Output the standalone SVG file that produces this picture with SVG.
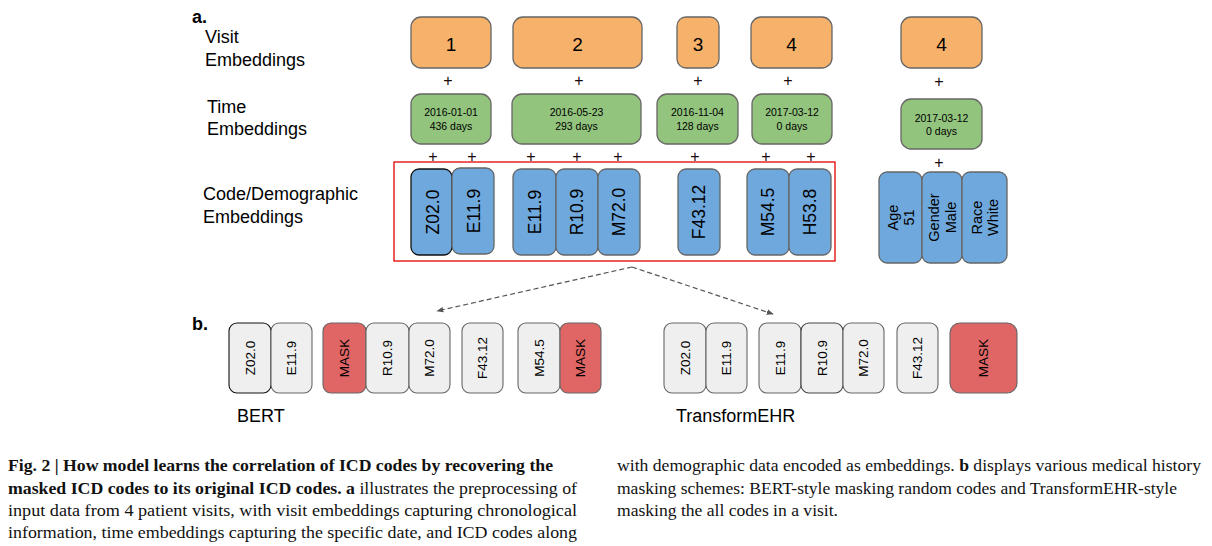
<svg xmlns="http://www.w3.org/2000/svg" width="1212" height="546" viewBox="0 0 1212 546">
<defs>
<style>
.lbl{font-family:"Liberation Sans",Arial,sans-serif;font-size:18px;fill:#000}
.hd{font-family:"Liberation Sans",Arial,sans-serif;font-size:18px;font-weight:bold;fill:#000}
.visit{fill:#f6b26b;stroke:#666;stroke-width:1.3}
.time{fill:#93c47d;stroke:#666;stroke-width:1.3}
.code{fill:#6fa8dc;stroke:#666;stroke-width:1.3}
.gray{fill:#efefef;stroke:#666;stroke-width:1.1}
.mask{fill:#e06666;stroke:#666;stroke-width:1.1}
.num{font-family:"Liberation Sans",Arial,sans-serif;font-size:19px;text-anchor:middle;fill:#000}
.tt{font-family:"Liberation Sans",Arial,sans-serif;font-size:10.5px;text-anchor:middle;fill:#000}
.ct{font-family:"Liberation Sans",Arial,sans-serif;font-size:17.5px;text-anchor:middle;fill:#000}
.dt{font-family:"Liberation Sans",Arial,sans-serif;font-size:14.5px;text-anchor:middle;fill:#000}
.bt{font-family:"Liberation Sans",Arial,sans-serif;font-size:13.5px;text-anchor:middle;fill:#000}
.plus{font-family:"Liberation Sans",Arial,sans-serif;font-size:16px;text-anchor:middle;fill:#1a0a0a}
.cap{font-family:"Liberation Serif","Times New Roman",serif;font-size:16px;fill:#111}
.b{font-weight:bold}
</style>
<marker id="ah" viewBox="0 0 10 10" refX="9" refY="5" markerWidth="7" markerHeight="7" orient="auto" markerUnits="userSpaceOnUse">
<path d="M0,1 L10,5 L0,9 z" fill="#555"/>
</marker>
</defs>

<g id="labels">
<text class="hd" x="192" y="23">a.</text>
<text class="lbl" x="205" y="43">Visit</text>
<text class="lbl" x="205" y="66">Embeddings</text>
<text class="lbl" x="207" y="113">Time</text>
<text class="lbl" x="207" y="135">Embeddings</text>
<text class="lbl" x="203" y="200">Code/Demographic</text>
<text class="lbl" x="203" y="223">Embeddings</text>
<text class="hd" x="192" y="330">b.</text>
<text class="lbl" x="237" y="422">BERT</text>
<text class="lbl" x="676" y="422">TransformEHR</text>
</g>

<g id="visit-embeddings">
<g id="v1"><rect class="visit" x="411" y="17" width="80" height="51" rx="10"/><text class="num" x="451" y="51">1</text></g>
<g id="v2"><rect class="visit" x="513" y="17" width="129" height="51" rx="10"/><text class="num" x="577.5" y="51">2</text></g>
<g id="v3"><rect class="visit" x="677" y="17" width="42" height="51" rx="9"/><text class="num" x="698" y="51">3</text></g>
<g id="v4"><rect class="visit" x="751" y="17" width="81" height="51" rx="10"/><text class="num" x="791.5" y="51">4</text></g>
<g id="v4b"><rect class="visit" x="901" y="17" width="81" height="51" rx="10"/><text class="num" x="941.5" y="51">4</text></g>
</g>

<g id="plus-signs">
<text class="plus" x="448" y="86">+</text>
<text class="plus" x="579" y="86">+</text>
<text class="plus" x="698" y="86">+</text>
<text class="plus" x="788" y="86">+</text>
<text class="plus" x="939" y="87">+</text>
<text class="plus" x="433" y="162">+</text>
<text class="plus" x="472" y="162">+</text>
<text class="plus" x="531" y="162">+</text>
<text class="plus" x="577" y="162">+</text>
<text class="plus" x="618" y="162">+</text>
<text class="plus" x="695" y="162">+</text>
<text class="plus" x="766" y="162">+</text>
<text class="plus" x="811" y="162">+</text>
<text class="plus" x="939" y="168">+</text>
</g>

<g id="time-embeddings">
<g id="t1"><rect class="time" x="411" y="94" width="80" height="50" rx="10"/><text class="tt" x="451" y="116">2016-01-01</text><text class="tt" x="451" y="130">436 days</text></g>
<g id="t2"><rect class="time" x="512" y="94" width="129" height="50" rx="10"/><text class="tt" x="576.5" y="116">2016-05-23</text><text class="tt" x="576.5" y="130">293 days</text></g>
<g id="t3"><rect class="time" x="657" y="94" width="81" height="50" rx="10"/><text class="tt" x="697.5" y="116">2016-11-04</text><text class="tt" x="697.5" y="130">128 days</text></g>
<g id="t4"><rect class="time" x="752" y="94" width="80" height="50" rx="10"/><text class="tt" x="792" y="116">2017-03-12</text><text class="tt" x="792" y="130">0 days</text></g>
<g id="t4b"><rect class="time" x="901" y="99" width="81" height="50" rx="10"/><text class="tt" x="941.5" y="122">2017-03-12</text><text class="tt" x="941.5" y="135">0 days</text></g>
</g>

<g id="code-embeddings">
<rect x="394" y="162" width="441" height="99" fill="none" stroke="#e00000" stroke-width="1.3"/>
<g id="c1"><rect class="code" x="411" y="169" width="41" height="86" rx="8" style="stroke:#111"/><text class="ct" transform="translate(433,212) rotate(-90)" dy="0.36em">Z02.0</text></g>
<g id="c2"><rect class="code" x="452" y="168" width="42" height="86" rx="8"/><text class="ct" transform="translate(474,211) rotate(-90)" dy="0.36em">E11.9</text></g>
<g id="c3"><rect class="code" x="513" y="169" width="43" height="86" rx="8"/><text class="ct" transform="translate(535,212) rotate(-90)" dy="0.36em">E11.9</text></g>
<g id="c4"><rect class="code" x="556" y="169" width="42" height="86" rx="8"/><text class="ct" transform="translate(577,212) rotate(-90)" dy="0.36em">R10.9</text></g>
<g id="c5"><rect class="code" x="598" y="169" width="42" height="86" rx="8"/><text class="ct" transform="translate(619,212) rotate(-90)" dy="0.36em">M72.0</text></g>
<g id="c6"><rect class="code" x="678" y="169" width="42" height="86" rx="8"/><text class="ct" transform="translate(699,212) rotate(-90)" dy="0.36em">F43.12</text></g>
<g id="c7"><rect class="code" x="747" y="169" width="42" height="86" rx="8"/><text class="ct" transform="translate(768,212) rotate(-90)" dy="0.36em">M54.5</text></g>
<g id="c8"><rect class="code" x="789" y="169" width="42" height="86" rx="8"/><text class="ct" transform="translate(810,212) rotate(-90)" dy="0.36em">H53.8</text></g>
</g>

<g id="demographic-embeddings">
<g id="d1"><rect class="code" x="879" y="172" width="43" height="91" rx="8"/><text class="dt" transform="translate(900.5,217.5) rotate(-90)"><tspan x="0" y="-3">Age</tspan><tspan x="0" y="13.5">51</tspan></text></g>
<g id="d2"><rect class="code" x="922" y="172" width="40" height="91" rx="8"/><text class="dt" transform="translate(942,217.5) rotate(-90)"><tspan x="0" y="-3">Gender</tspan><tspan x="0" y="13.5">Male</tspan></text></g>
<g id="d3"><rect class="code" x="962" y="172" width="45" height="91" rx="8"/><text class="dt" transform="translate(984.5,217.5) rotate(-90)"><tspan x="0" y="-3">Race</tspan><tspan x="0" y="13.5">White</tspan></text></g>
</g>

<g id="bert">
<g id="b1"><rect class="gray" x="229" y="323" width="42" height="70" rx="8" style="stroke:#111"/><text class="bt" transform="translate(250,358) rotate(-90)" dy="0.36em">Z02.0</text></g>
<g id="b2"><rect class="gray" x="271" y="323" width="41" height="70" rx="8"/><text class="bt" transform="translate(291.5,358) rotate(-90)" dy="0.36em">E11.9</text></g>
<g id="b3"><rect class="mask" x="323" y="323" width="43" height="70" rx="8"/><text class="bt" transform="translate(344.5,358) rotate(-90)" dy="0.36em">MASK</text></g>
<g id="b4"><rect class="gray" x="366" y="323" width="43" height="70" rx="8"/><text class="bt" transform="translate(387.5,358) rotate(-90)" dy="0.36em">R10.9</text></g>
<g id="b5"><rect class="gray" x="409" y="323" width="41" height="70" rx="8"/><text class="bt" transform="translate(429.5,358) rotate(-90)" dy="0.36em">M72.0</text></g>
<g id="b6"><rect class="gray" x="462" y="323" width="41" height="70" rx="8"/><text class="bt" transform="translate(482.5,358) rotate(-90)" dy="0.36em">F43.12</text></g>
<g id="b7"><rect class="gray" x="518" y="323" width="42" height="70" rx="8"/><text class="bt" transform="translate(539,358) rotate(-90)" dy="0.36em">M54.5</text></g>
<g id="b8"><rect class="mask" x="560" y="323" width="41" height="70" rx="8"/><text class="bt" transform="translate(580.5,358) rotate(-90)" dy="0.36em">MASK</text></g>
</g>

<g id="transformehr">
<g id="e1"><rect class="gray" x="664" y="323" width="42" height="70" rx="8"/><text class="bt" transform="translate(685,358) rotate(-90)" dy="0.36em">Z02.0</text></g>
<g id="e2"><rect class="gray" x="706" y="323" width="41" height="70" rx="8"/><text class="bt" transform="translate(726.5,358) rotate(-90)" dy="0.36em">E11.9</text></g>
<g id="e3"><rect class="gray" x="759" y="323" width="42" height="70" rx="8"/><text class="bt" transform="translate(780,358) rotate(-90)" dy="0.36em">E11.9</text></g>
<g id="e4"><rect class="gray" x="801" y="323" width="42" height="70" rx="8" style="stroke:#444"/><text class="bt" transform="translate(822,358) rotate(-90)" dy="0.36em">R10.9</text></g>
<g id="e5"><rect class="gray" x="843" y="323" width="41" height="70" rx="8"/><text class="bt" transform="translate(863.5,358) rotate(-90)" dy="0.36em">M72.0</text></g>
<g id="e6"><rect class="gray" x="897" y="323" width="41" height="70" rx="8"/><text class="bt" transform="translate(917.5,358) rotate(-90)" dy="0.36em">F43.12</text></g>
<g id="e7"><rect class="mask" x="950" y="323" width="67" height="70" rx="10"/><text class="bt" transform="translate(983.5,358) rotate(-90)" dy="0.36em">MASK</text></g>
</g>

<g id="connectors" fill="none" stroke="#555" stroke-width="1.2" stroke-dasharray="5,3">
<path d="M632,267 L437,311" marker-end="url(#ah)"/>
<path d="M632,267 L773,314" marker-end="url(#ah)"/>
</g>

<g id="caption">
<text class="cap b" x="8" y="471" textLength="545" lengthAdjust="spacingAndGlyphs">Fig. 2 | How model learns the correlation of ICD codes by recovering the</text>
<text class="cap" x="8" y="494" textLength="569" lengthAdjust="spacingAndGlyphs"><tspan class="b">masked ICD codes to its original ICD codes. a</tspan> illustrates the preprocessing of</text>
<text class="cap" x="8" y="516" textLength="569" lengthAdjust="spacingAndGlyphs">input data from 4 patient visits, with visit embeddings capturing chronological</text>
<text class="cap" x="8" y="538" textLength="569" lengthAdjust="spacingAndGlyphs">information, time embeddings capturing the specific date, and ICD codes along</text>
<text class="cap" x="617" y="471" textLength="584" lengthAdjust="spacingAndGlyphs">with demographic data encoded as embeddings. <tspan class="b">b</tspan> displays various medical history</text>
<text class="cap" x="617" y="494" textLength="560" lengthAdjust="spacingAndGlyphs">masking schemes: BERT-style masking random codes and TransformEHR-style</text>
<text class="cap" x="617" y="516" textLength="221" lengthAdjust="spacingAndGlyphs">masking the all codes in a visit.</text>
</g>
</svg>
